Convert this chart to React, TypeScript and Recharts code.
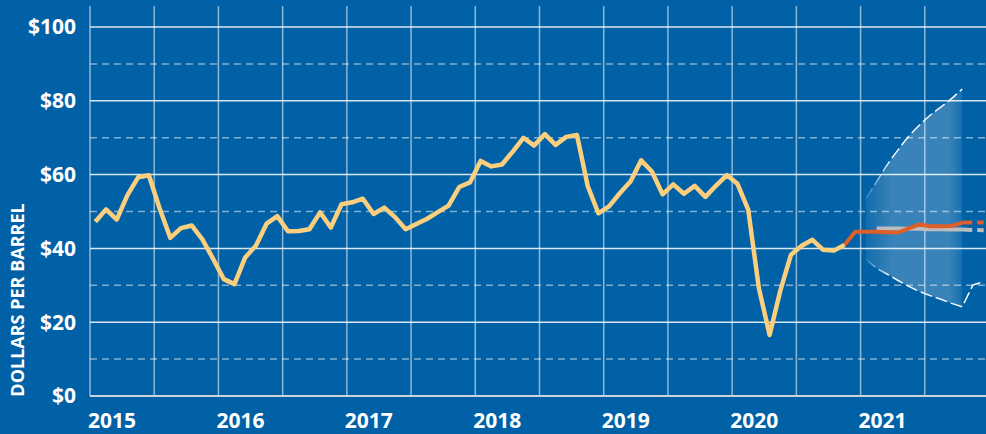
import React from "react";
import {
  ComposedChart,
  Line,
  Area,
  XAxis,
  YAxis,
  CartesianGrid,
} from "recharts";

// monthly WTI spot price, dollars per barrel
const years = ["2015", "2016", "2017", "2018", "2019", "2020", "2021"];
const price2015 = [47.22, 50.58, 47.82, 54.45, 59.27, 59.82, 50.9, 42.87, 45.48, 46.22, 42.44, 37.19];
const price2016 = [31.68, 30.32, 37.55, 40.75, 46.71, 48.76, 44.65, 44.72, 45.18, 49.78, 45.66, 51.97];
const price2017 = [52.5, 53.47, 49.33, 51.06, 48.48, 45.18, 46.63, 48.04, 49.82, 51.58, 56.64, 57.88];
const price2018 = [63.7, 62.23, 62.73, 66.25, 69.98, 67.87, 70.98, 68.06, 70.23, 70.75, 56.96, 49.52];
const price2019 = [51.38, 54.95, 58.15, 63.86, 60.83, 54.66, 57.35, 54.81, 56.95, 53.96, 57.03, 59.88];
const price2020 = [57.52, 50.54, 29.21, 16.55, 28.56, 38.31, 40.71, 42.34, 39.63, 39.4, 40.94];

// forecast Nov 2020 - Dec 2021
const forecastPrices = [40.94, 44.5, 44.5, 44.5, 44.4, 44.3, 45.4, 46.5, 46.0, 46.0, 46.1, 47.0, 47.0, 47.0];
// futures Feb 2021 - Dec 2021
const futuresPrices = [45.4, 45.4, 45.4, 45.3, 45.3, 45.2, 45.2, 45.1, 45.1, 45.0, 44.9];
// confidence interval, from Jan 2021
const upperBand = [53.5, 58.1, 62.7, 66.7, 70.4, 73.4, 76.1, 78.3, 80.6, 83.2];
const lowerBand = [37.0, 34.6, 33.0, 31.3, 29.7, 28.3, 27.2, 26.2, 25.1, 24.2, 30.1, 31.0];

const history = [...price2015, ...price2016, ...price2017, ...price2018, ...price2019, ...price2020];
const FC_START = 70; // Nov 2020
const FUT_START = 73; // Feb 2021
const BAND_START = 72; // Jan 2021
const TAIL_START = 81; // Oct 2021, dashed after

const data = Array.from({ length: 84 }, (_, i) => {
  const fc = forecastPrices[i - FC_START];
  const fut = futuresPrices[i - FUT_START];
  const up = upperBand[i - BAND_START];
  const lo = lowerBand[i - BAND_START];
  return {
    m: i + 0.5,
    price: history[i],
    fc: i <= TAIL_START ? fc : undefined,
    fcTail: i >= TAIL_START ? fc : undefined,
    fut: i <= TAIL_START ? fut : undefined,
    futTail: i >= TAIL_START ? fut : undefined,
    upper: up,
    lower: lo,
    band: up !== undefined && lo !== undefined ? [lo, up] : undefined,
  };
});

const BG = "#0161a6";
const FONT = "'Open Sans', sans-serif";

const YearTick = (props: any) => {
  const { x, y, payload } = props;
  const idx = payload.value / 12;
  if (payload.value % 12 !== 0 || !years[idx]) return null;
  return (
    <text x={x - 2} y={y + 32} textAnchor="start" fill="#fff" fontSize={21} fontWeight={700} fontFamily={FONT}>
      {years[idx]}
    </text>
  );
};

export default function App() {
  return (
    <div style={{ position: "absolute", left: 0, top: 0, width: 986, height: 434, overflow: "hidden", background: BG }}>
      <ComposedChart width={989} height={434} data={data} margin={{ top: 6, right: 0, bottom: 0, left: 0 }}>
        <defs>
          <linearGradient id="bandFade" gradientUnits="userSpaceOnUse" x1={858} y1={0} x2={970} y2={0}>
            <stop offset="0" stopColor="#fff" stopOpacity={0.04} />
            <stop offset="0.3" stopColor="#fff" stopOpacity={0.36} />
            <stop offset="0.82" stopColor="#fff" stopOpacity={0.36} />
            <stop offset="1" stopColor="#fff" stopOpacity={0} />
          </linearGradient>
          <linearGradient id="edgeFade" gradientUnits="userSpaceOnUse" x1={862} y1={0} x2={890} y2={0}>
            <stop offset="0" stopColor="#fff" stopOpacity={0} />
            <stop offset="1" stopColor="#fff" stopOpacity={0.95} />
          </linearGradient>
        </defs>
        <CartesianGrid horizontal={false} stroke="#fff" strokeOpacity={0.55} strokeWidth={1.5} />
        <CartesianGrid vertical={false} horizontalValues={[20, 40, 60, 80, 100]} stroke="#fff" strokeOpacity={0.85} strokeWidth={1.5} />
        <CartesianGrid vertical={false} horizontalValues={[10, 30, 50, 70, 90]} stroke="#fff" strokeOpacity={0.5} strokeWidth={1.5} strokeDasharray="7 5" />
        <XAxis
          type="number"
          dataKey="m"
          domain={[0, 84]}
          ticks={[0, 6, 12, 18, 24, 30, 36, 42, 48, 54, 60, 66, 72, 78, 84]}
          allowDataOverflow
          height={38}
          tickSize={0}
          tickMargin={0}
          axisLine={{ stroke: "#c8d2dc", strokeWidth: 2 }}
          tickLine={false}
          tick={<YearTick />}
          interval={0}
        />
        <YAxis
          type="number"
          domain={[0, 105.7]}
          ticks={[0, 20, 40, 60, 80, 100]}
          allowDataOverflow
          width={90}
          tickSize={0}
          tickMargin={14}
          axisLine={false}
          tickLine={false}
          tickFormatter={(v: number) => `$${v}`}
          tick={{ fill: "#fff", fontSize: 21, fontWeight: 700, fontFamily: FONT }}
        />
        <Area dataKey="band" type="monotone" stroke="none" fill="url(#bandFade)" isAnimationActive={false} connectNulls={false} />
        <Line dataKey="upper" type="monotone" stroke="url(#edgeFade)" strokeWidth={1.5} strokeDasharray="12 4" dot={false} isAnimationActive={false} />
        <Line dataKey="lower" type="linear" stroke="url(#edgeFade)" strokeWidth={1.5} strokeDasharray="12 4" dot={false} isAnimationActive={false} />
        <Line dataKey="fut" type="linear" stroke="#bdbdbd" strokeWidth={4} dot={false} isAnimationActive={false} />
        <Line dataKey="futTail" type="linear" stroke="#bdbdbd" strokeWidth={4} strokeDasharray="10 5" dot={false} isAnimationActive={false} />
        <Line dataKey="fc" type="linear" stroke="#de5f27" strokeWidth={4} dot={false} isAnimationActive={false} />
        <Line dataKey="fcTail" type="linear" stroke="#de5f27" strokeWidth={4} strokeDasharray="10 5" dot={false} isAnimationActive={false} />
        <Line dataKey="price" type="linear" stroke="#fbcf7d" strokeWidth={4.5} strokeLinejoin="round" dot={false} isAnimationActive={false} />
      </ComposedChart>
      <svg width={40} height={434} style={{ position: "absolute", left: 0, top: 0 }}>
        <text
          transform="translate(17,300) rotate(-90)"
          textAnchor="middle"
          dominantBaseline="central"
          fill="#fff"
          fontSize={18}
          fontWeight={700}
          fontFamily={FONT}
        >
          DOLLARS PER BARREL
        </text>
      </svg>
    </div>
  );
}
